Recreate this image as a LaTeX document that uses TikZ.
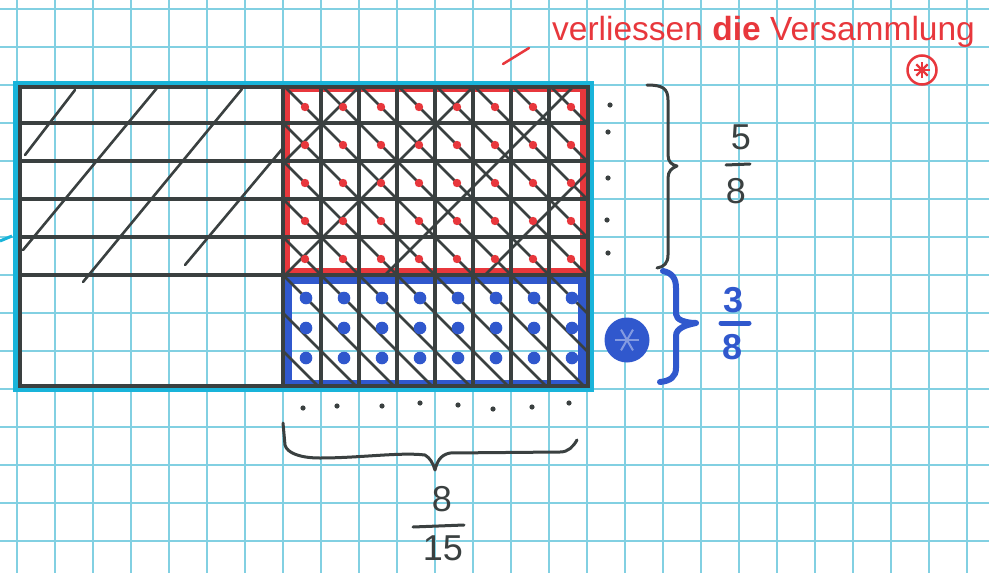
\documentclass[tikz,border=0pt]{standalone}
\usepackage{fontspec}
\setmainfont{Liberation Sans}
\definecolor{gridc}{RGB}{130,208,226}
\definecolor{cyanb}{RGB}{25,180,218}
\definecolor{ink}{RGB}{58,64,64}
\definecolor{redp}{RGB}{232,55,60}
\definecolor{bluep}{RGB}{48,88,205}
\tikzset{
  gridline/.style={gridc, line width=1.3pt},
  inkline/.style={ink, line width=3.4pt},
  hatch/.style={ink, line width=2.6pt, line cap=round},
  bracepath/.style={line width=3pt, line cap=round, line join=round},
  fracdigit/.style={font=\fontsize{36}{36}\selectfont, inner sep=0pt},
  smalldot/.style={fill=ink},
}
\begin{document}
\begin{tikzpicture}[x=1pt,y=-1pt]
\useasboundingbox (0,0) rectangle (989,573);
\fill[white] (0,0) rectangle (989,573);
% graph paper
\foreach \i in {0,...,25} \draw[gridline] ({17+38*\i},0) -- ({17+38*\i},573);
\foreach \j in {-2,...,12} \draw[gridline] (0,{85+38*\j}) -- (989,{85+38*\j});
% coloured borders
\draw[redp, line width=7pt] (286.5,88.5) rectangle (583.5,271.5);
\draw[bluep, line width=9pt] (287.5,279.5) rectangle (582.5,384.5);
% hatching "\" over the right 8 columns
\begin{scope}
  \clip (283,85) rectangle (588,389);
  \foreach \i in {0,...,7} \draw[hatch] ({283+38*\i},85) -- ++(340,340);
  \foreach \j in {1,...,7} \draw[hatch] (283,{85+38*\j}) -- ++(340,340);
\end{scope}
% hatching "/" over the top 5 rows (right part)
\begin{scope}
  \clip (283,85) rectangle (588,275);
  \foreach \c in {446,560,660,760} \draw[hatch] ({\c-85},85) -- ({\c-275},275);
\end{scope}
% dots
\foreach \i in {0,...,7}
  \foreach \j in {0,...,4}
    \fill[redp] ({283+38*\i+22},{85+38*\j+22}) circle (4.2);
\foreach \i in {0,...,7}
  \foreach \y in {298,328,358}
    \fill[bluep] ({283+38*\i+23},\y) circle (6.3);
% hatching "/" in the left part
\draw[hatch] (25,155) -- (75,90);
\draw[hatch] (23,250) -- (157,88);
\draw[hatch] (83,282) -- (242,89);
\draw[hatch] (185,265) -- (283,148);
% black lines
\foreach \j in {1,...,5} \draw[inkline] (19,{85+38*\j}) -- (588,{85+38*\j});
\foreach \i in {0,...,7} \draw[inkline] ({283+38*\i},86) -- ({283+38*\i},388);
% outer border
\draw[cyanb, line width=5pt] (15,83) rectangle (591,389);
\draw[ink, line width=3.5pt] (20,87) rectangle (588,386);
% small cyan tick on the left
\draw[cyanb, line width=3pt] (0,241) -- (12,236);
% dots beside and below
\foreach \p in {(610,105),(608,132),(608,178),(607,220),(608,253),
                (303,408),(337,406),(382,406),(420,403),(458,405),(493,409),(532,407),(569,403)}
  \fill[smalldot] \p circle (2.6);
% braces
\draw[bracepath, ink] (647,85) .. controls (662,85) and (668,88) .. (668,100) -- (668,155)
  .. controls (668,162) and (672,165) .. (677,166) .. controls (672,168) and (668,171) .. (668,178)
  -- (668,255) .. controls (668,263) and (664,267) .. (657,268);
\draw[bracepath, bluep, line width=6pt] (663,271) .. controls (672,273) and (676,278) .. (676,288)
  -- (676,314) .. controls (676,320) and (686,323) .. (696,323) .. controls (686,325) and (676,328) .. (676,336)
  -- (676,368) .. controls (676,377) and (670,381) .. (660,382);
\draw[bracepath, ink] (283,423) -- (285,445) .. controls (287,453) and (300,458) .. (320,458)
  .. controls (360,458) and (400,452) .. (425,455) .. controls (430,458) and (433,463) .. (435,470)
  .. controls (437,462) and (440,455) .. (450,453) -- (560,452) .. controls (568,452) and (573,447) .. (577,440);
% fractions
\node[fracdigit, text=ink] (n58) at (741,137) {5};
\draw[ink, line width=3pt, line cap=round] (726,165) -- (750,164);
\node[fracdigit, text=ink] (d58) at (736,191) {8};
\node[fracdigit, text=bluep, font=\fontsize{36}{36}\selectfont\bfseries] (n38) at (734,300) {3};
\draw[bluep, line width=5pt, line cap=round] (721,323) -- (749,323);
\node[fracdigit, text=bluep, font=\fontsize{36}{36}\selectfont\bfseries] (d38) at (733,347) {8};
\node[fracdigit, text=ink] (n815) at (442,499) {8};
\draw[ink, line width=3pt, line cap=round] (413,527) -- (464,525);
\node[fracdigit, text=ink] (d815) at (443,548) {15};
% red heading
\node[anchor=base west, text=redp, font=\fontsize{33.5}{33.5}\selectfont, inner sep=0pt] (title) at (552,40)
  {verliessen \textbf{die} Versammlung};
\draw[redp, line width=2.5pt, line cap=round] (503,64) -- (529,48);
% circled asterisks
\node[circle, draw=redp, line width=2.5pt, minimum size=29pt, inner sep=0pt] (starred) at (922,70) {};
\foreach \a in {0,45,90,135}
  \draw[redp, line width=2.2pt] (starred.center) ++(\a:8) -- ++(\a+180:16);
\node[circle, fill=bluep, minimum size=45pt, inner sep=0pt] (starblue) at (627,340) {};
\foreach \a in {0,60,120}
  \draw[bluep!60!white, line width=2pt] (starblue.center) ++(\a:12) -- ++(\a+180:24);
\end{tikzpicture}
\end{document}
